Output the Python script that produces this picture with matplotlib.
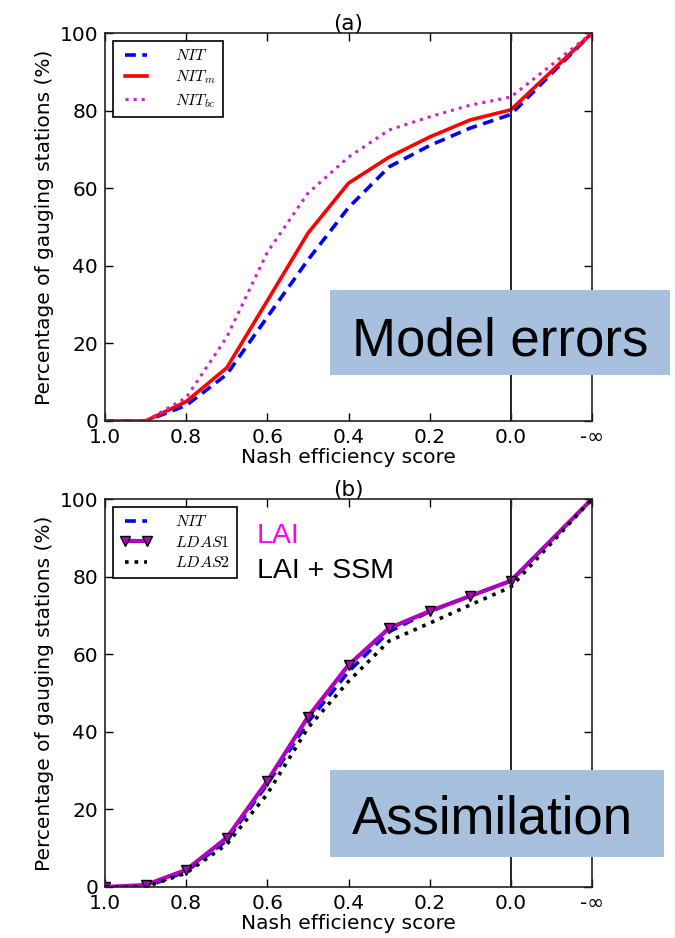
import matplotlib
matplotlib.use("Agg")
import matplotlib.pyplot as plt
from matplotlib.patches import Rectangle

plt.rcParams['mathtext.fontset'] = 'cm'
plt.rcParams['font.family'] = 'DejaVu Sans'

# Nash efficiency thresholds (cumulative share of stations above each score)
nse_thresholds = [1.0, 0.9, 0.8, 0.7, 0.6, 0.5, 0.4, 0.3, 0.2, 0.1, 0.0]
inf_label = '-\u221e'
tick_labels = ['1.0', '0.8', '0.6', '0.4', '0.2', '0.0', inf_label]

# panel (a): model error experiments
nit = [0, 0, 4, 12, 26.8, 41.5, 55, 65.5, 71, 75.5, 79, 100]
nit_m = [0, 0, 5, 13.7, 31, 48.4, 61.3, 68, 73.2, 77.6, 80.2, 100]
nit_bc = [0, 0, 6, 21.6, 43.5, 58.7, 68, 75, 78.4, 81.4, 83.5, 100]

# panel (b): assimilation experiments
nit_b = [0, 0, 4, 12, 26.5, 42.5, 55.5, 65.8, 71, 75, 78.9, 100]
ldas1 = [0, 0.5, 4.4, 12.7, 27.3, 43.8, 57.2, 66.7, 71.1, 75, 78.9, 100]
ldas2 = [0, 0, 3.6, 11, 24, 41, 53, 63.4, 68, 72.7, 77.3, 100]

step = nse_thresholds[0] - nse_thresholds[1]
xpos = nse_thresholds + [nse_thresholds[-1] - 2 * step]   # slot for -inf
tick_pos = nse_thresholds[::2] + [xpos[-1]]

fig = plt.figure(figsize=(6.75, 9.38), dpi=100)
ax_a = fig.add_axes([0.1556, 0.5512, 0.7214, 0.4136])
ax_b = fig.add_axes([0.1556, 0.0544, 0.7214, 0.4136])


def style_axes(ax, title):
    ax.set_xlim(xpos[0], xpos[-1])
    ax.set_ylim(0, 100)
    ax.set_xticks(tick_pos)
    ax.set_xticklabels(tick_labels)
    ax.set_yticks([0, 20, 40, 60, 80, 100])
    ax.tick_params(direction='in', top=True, right=True, length=6,
                   width=1, labelsize=14.5, pad=5)
    for s in ax.spines.values():
        s.set_linewidth(1.2)
        s.set_color('#222222')
    ax.axvline(nse_thresholds[-1], color='#222222', lw=1.4)
    ax.set_xlabel('Nash efficiency score', fontsize=14.5, labelpad=1)
    ax.set_ylabel('Percentage of gauging stations (%)', fontsize=14.5, labelpad=4)
    ax.set_title(title, fontsize=15.5, pad=2)


def add_legend(ax):
    leg = ax.legend(loc='upper left', fontsize=11.5, fancybox=False, framealpha=1,
                    edgecolor='black', borderaxespad=0.5, handlelength=2.0,
                    labelspacing=0.35, borderpad=0.45, handletextpad=1.4,
                    numpoints=2)
    leg.get_frame().set_linewidth(1.2)


ax_a.plot(xpos, nit, color='#0000ff', ls='--', lw=2.6, dashes=(3, 1.8), label='$NIT$')
ax_a.plot(xpos, nit_m, color='#ff0000', ls='-', lw=2.6, label='$NIT_m$')
ax_a.plot(xpos, nit_bc, color='#cc22cc', ls=':', lw=2.2, label='$NIT_{bc}$')
style_axes(ax_a, '(a)')
add_legend(ax_a)

ax_b.plot(xpos, nit_b, color='#0000ff', ls='--', lw=2.6, dashes=(3, 1.8), label='$NIT$')
ax_b.plot(xpos, ldas1, color='#b000c0', ls='-', lw=3, marker='v', ms=7,
          mfc='#b000c0', mec='black', mew=1, label='$LDAS1$')
ax_b.plot(xpos, ldas2, color='black', ls=':', lw=2.6, label='$LDAS2$')
style_axes(ax_b, '(b)')
add_legend(ax_b)

# annotations on the right-hand side
fig.text(257 / 675, 1 - 543 / 938, 'LAI', color='#ff00ff', fontsize=20.5,
         family='Liberation Sans', ha='left', va='baseline')
fig.text(257 / 675, 1 - 578 / 938, 'LAI + SSM', color='black', fontsize=20.5,
         family='Liberation Sans', ha='left', va='baseline')

box_color = '#a7c0de'
fig.add_artist(Rectangle((330 / 675, 1 - 375 / 938), 340 / 675, 85 / 938,
                         transform=fig.transFigure, facecolor=box_color,
                         edgecolor='none', zorder=5))
fig.text(352 / 675, 1 - 355 / 938, 'Model errors', fontsize=38,
         family='Liberation Sans', ha='left', va='baseline', zorder=6)

fig.add_artist(Rectangle((330 / 675, 1 - 857 / 938), 334 / 675, 87 / 938,
                         transform=fig.transFigure, facecolor=box_color,
                         edgecolor='none', zorder=5))
fig.text(352 / 675, 1 - 833 / 938, 'Assimilation', fontsize=38,
         family='Liberation Sans', ha='left', va='baseline', zorder=6)

fig.savefig('out.png', dpi=100)
